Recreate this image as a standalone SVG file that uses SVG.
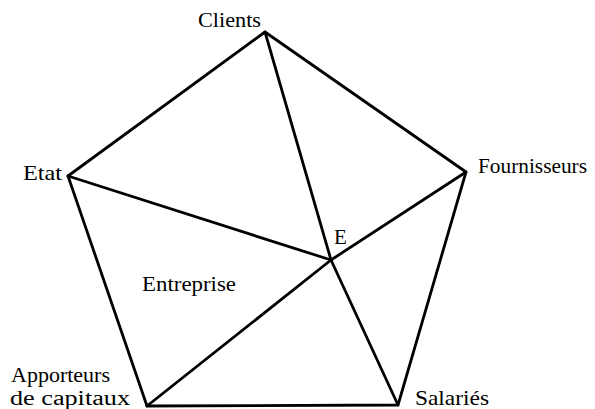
<svg xmlns="http://www.w3.org/2000/svg" width="595" height="409" viewBox="0 0 595 409">
<style>
.lbl{font-family:"Liberation Serif","Times New Roman",serif;font-size:21px;fill:#000}
.sm{font-size:20px}
.edge{stroke:#000;stroke-width:2.8;fill:none;stroke-linecap:round;stroke-linejoin:round}
</style>
<rect width="595" height="409" fill="#fff"/>
<g id="connectors">
<polygon class="edge" points="265,32 466,172 398,405 147,406 68,176"/>
<line class="edge" x1="331" y1="260" x2="265" y2="32"/>
<line class="edge" x1="331" y1="260" x2="466" y2="172"/>
<line class="edge" x1="331" y1="260" x2="398" y2="405"/>
<line class="edge" x1="331" y1="260" x2="147" y2="406"/>
<line class="edge" x1="331" y1="260" x2="68" y2="176"/>
</g>
<g id="clients"><text class="lbl" x="198" y="27" textLength="63" lengthAdjust="spacingAndGlyphs">Clients</text></g>
<g id="fournisseurs"><text class="lbl" x="478" y="173" textLength="109" lengthAdjust="spacingAndGlyphs">Fournisseurs</text></g>
<g id="salaries"><text class="lbl" x="415" y="405" textLength="74" lengthAdjust="spacingAndGlyphs">Salariés</text></g>
<g id="apporteurs"><text class="lbl sm" x="11" y="382" textLength="99" lengthAdjust="spacingAndGlyphs">Apporteurs</text><text class="lbl sm" x="10" y="405" textLength="120" lengthAdjust="spacingAndGlyphs">de capitaux</text></g>
<g id="etat"><text class="lbl" x="23" y="180" textLength="39" lengthAdjust="spacingAndGlyphs">Etat</text></g>
<g id="entreprise"><text class="lbl" x="142" y="291" textLength="94" lengthAdjust="spacingAndGlyphs">Entreprise</text><text class="lbl" x="334" y="244">E</text></g>
</svg>
